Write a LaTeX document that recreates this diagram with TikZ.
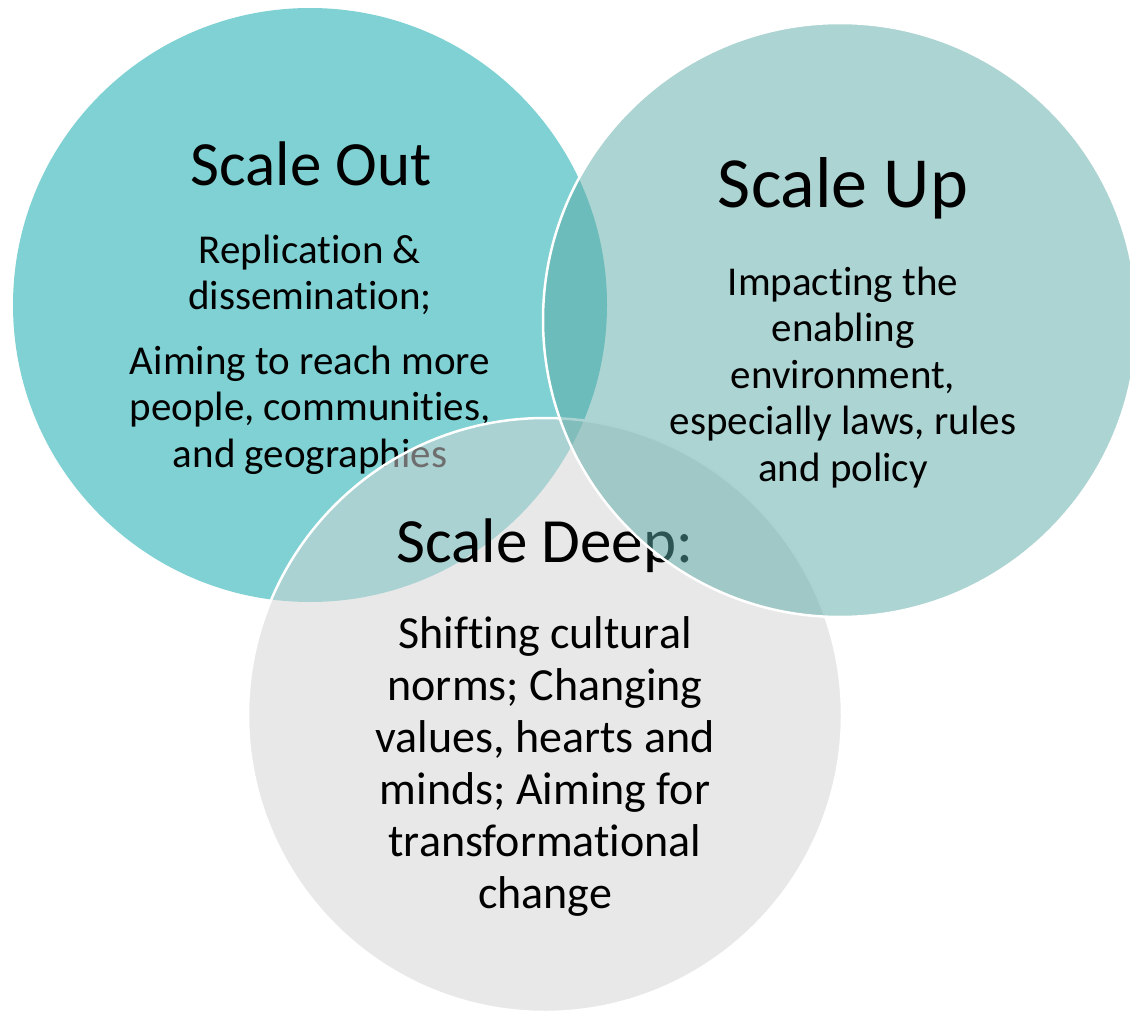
\documentclass[tikz,border=0pt]{standalone}
\usepackage{fontspec}
\setmainfont[Ligatures=NoCommon]{Carlito}
\usepackage{tikz}
\usetikzlibrary{positioning}
\definecolor{outteal}{RGB}{128,209,211}
\definecolor{upteal}{RGB}{89,169,165}
\definecolor{deepgray}{RGB}{211,211,211}
\tikzstyle{ring} =
  [circle, minimum size=594pt, inner sep=0pt, line width=2.5pt]
\tikzstyle{title} =
  [anchor=base, font=\fontsize{63}{70}\selectfont]
\tikzstyle{body} =
  [anchor=base, align=center, font=\fontsize{41}{46.5}\selectfont]

\begin{document}
\begin{tikzpicture}[x=1pt, y=-1pt]
  \useasboundingbox (0,0) rectangle (1130,1011);
  % scale out
  \node [ring, fill=outteal] (out) at (310,305) {};
  \node [title] (outtitle) at (311,186) {Scale Out};
  \node [body] (outtext) at (310,467) {Replication \&\\ dissemination;\\[18pt]
    Aiming to reach more\\ people, communities,\\ and geographies};

  % scale deep
  \node [ring, draw=white, fill=deepgray, fill opacity=0.52] (deep) at (545,715) {};
  \node [title] (deeptitle) at (545,562) {Scale Deep:};
  \node [anchor=base, align=center, font=\fontsize{46}{52}\selectfont]
    (deeptext) at (545,908) {Shifting cultural\\ norms; Changing\\ values, hearts and\\
    minds; Aiming for\\ transformational\\ change};

  % scale up
  \node [ring, draw=white, fill=upteal, fill opacity=0.5] (up) at (840,320) {};
  \node [title, font=\fontsize{72}{80}\selectfont] (uptitle) at (843,208) {Scale Up};
  \node [body] (uptext) at (843,481) {Impacting the\\ enabling\\ environment,\\
    especially laws, rules\\ and policy};
\end{tikzpicture}
\end{document}
